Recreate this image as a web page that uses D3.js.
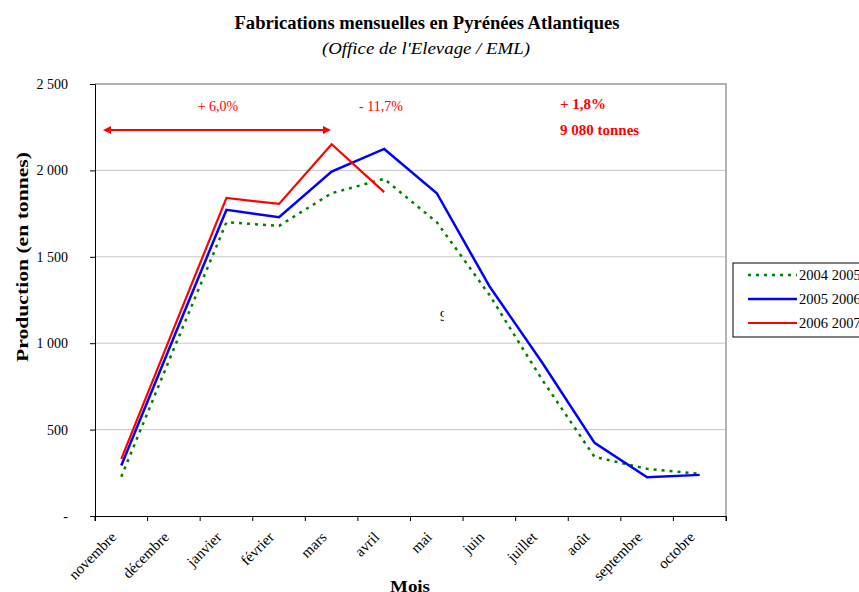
<!DOCTYPE html>
<html>
<head>
<meta charset="utf-8">
<script src="https://cdn.jsdelivr.net/npm/d3@7"></script>
<style>
    body { margin: 0; background: #fff; }
    svg text { font-family: 'Liberation Serif', 'Times New Roman', serif; }
</style>
</head>
<body>
<div id="chart"></div>
<script>
const months = ['novembre', 'décembre', 'janvier', 'février', 'mars', 'avril', 'mai', 'juin', 'juillet', 'août', 'septembre', 'octobre'];
const seriesNames = ['2004 2005', '2005 2006', '2006 2007'];
const values0405 = [227, 968, 1700, 1679, 1868, 1951, 1700, 1280, 790, 342, 273, 244];
const values0506 = [292, 1035, 1772, 1729, 1993, 2124, 1868, 1330, 890, 423, 224, 238];
const values0607 = [331, 1087, 1841, 1806, 2151, 1874];
const yTicks = [0, 500, 1000, 1500, 2000, 2500];

const width = 859, height = 592;
const margin = { top: 84, left: 95, right: 133, bottom: 76 };
const innerW = width - margin.left - margin.right;
const innerH = height - margin.top - margin.bottom;

const svg = d3.select('#chart').append('svg')
    .attr('width', width)
    .attr('height', height);

const chart = svg.append('g')
    .attr('transform', `translate(${margin.left},${margin.top})`);

const xScale = d3.scaleBand()
    .domain(months)
    .range([0, innerW]);

const yScale = d3.scaleLinear()
    .domain([0, 2500])
    .range([innerH, 0]);

// gridlines
chart.selectAll('.grid')
    .data(yTicks.slice(1, -1))
    .join('line')
    .attr('class', 'grid')
    .attr('x1', 0).attr('x2', innerW)
    .attr('y1', d => yScale(d)).attr('y2', d => yScale(d))
    .attr('stroke', '#c8c8c8');

// plot border (top + right)
chart.append('path')
    .attr('d', `M0,0H${innerW}V${innerH}`)
    .attr('fill', 'none')
    .attr('stroke', '#9a9a9a')
    .attr('stroke-width', 1.5);

const fmt = d => d === 0 ? '-' : d3.format(',')(d).replace(',', ' ');

const yAxis = d3.axisLeft(yScale)
    .tickValues(yTicks)
    .tickSize(5)
    .tickPadding(22)
    .tickFormat(fmt);

chart.append('g')
    .call(yAxis)
    .call(g => g.selectAll('text').style('font-size', '14px').attr('fill', '#000'))
    .call(g => g.select('.domain').attr('stroke', '#000'));

const xAxis = d3.axisBottom(xScale).tickSize(5).tickFormat('');
const xAxisGroup = chart.append('g')
    .attr('transform', `translate(0,${innerH})`)
    .call(xAxis);
xAxisGroup.selectAll('.tick').remove();
xAxisGroup.select('.domain').attr('stroke', '#000');
xAxisGroup.selectAll('.xt')
    .data(months.concat(['end']))
    .join('line')
    .attr('class', 'xt')
    .attr('x1', (d, i) => i * xScale.step()).attr('x2', (d, i) => i * xScale.step())
    .attr('y1', 0).attr('y2', 5)
    .attr('stroke', '#000');
xAxisGroup.selectAll('.xl')
    .data(months)
    .join('text')
    .attr('class', 'xl')
    .attr('transform', d => `translate(${xScale(d) + xScale.bandwidth() / 2 - 4},${22}) rotate(-45)`)
    .attr('text-anchor', 'end')
    .attr('fill', '#000')
    .style('font-size', '15px')
    .text(d => d);

// lines
const line = d3.line()
    .x((d, i) => xScale(months[i]) + xScale.bandwidth() / 2)
    .y(d => yScale(d));

const styles = [
    { data: values0405, color: '#008000', w: 2.5, dash: '3,5' },
    { data: values0506, color: '#0000ff', w: 2.5, dash: null },
    { data: values0607, color: '#ff0000', w: 2.2, dash: null }
];

styles.forEach(s => {
    chart.append('path')
        .datum(s.data)
        .attr('d', line)
        .attr('fill', 'none')
        .attr('stroke', s.color)
        .attr('stroke-width', s.w)
        .attr('stroke-dasharray', s.dash);
});

// annotations
const defs = svg.append('defs');
['start', 'end'].forEach(k => {
    defs.append('marker')
        .attr('id', 'arr-' + k)
        .attr('viewBox', '0 0 10 10')
        .attr('refX', 5).attr('refY', 5)
        .attr('markerWidth', 4).attr('markerHeight', 4)
        .attr('orient', k === 'start' ? 'auto-start-reverse' : 'auto')
        .append('path')
        .attr('d', 'M0,0L10,5L0,10z')
        .attr('fill', '#ff0000');
});
defs.append('clipPath').attr('id', 'cut9')
    .append('rect').attr('x', 430).attr('y', 300).attr('width', 14).attr('height', 30);

svg.append('line')
    .attr('x1', 107).attr('x2', 327)
    .attr('y1', 130).attr('y2', 130)
    .attr('stroke', '#ff0000')
    .attr('stroke-width', 2)
    .attr('marker-start', 'url(#arr-start)')
    .attr('marker-end', 'url(#arr-end)');

svg.append('text').attr('x', 218).attr('y', 111).attr('text-anchor', 'middle')
    .attr('fill', '#ff0000').style('font-size', '14px').text('+ 6,0%');
svg.append('text').attr('x', 381).attr('y', 111).attr('text-anchor', 'middle')
    .attr('fill', '#ff0000').style('font-size', '14px').text('- 11,7%');
svg.append('text').attr('x', 560).attr('y', 109)
    .attr('fill', '#ff0000').style('font-size', '15px').style('font-weight', 'bold').text('+ 1,8%');
svg.append('text').attr('x', 560).attr('y', 135)
    .attr('fill', '#ff0000').style('font-size', '15px').style('font-weight', 'bold').text('9 080 tonnes');
svg.append('text').attr('x', 440).attr('y', 321)
    .attr('clip-path', 'url(#cut9)')
    .style('font-size', '14px').text('9');

// titles
svg.append('text').attr('x', 427).attr('y', 29).attr('text-anchor', 'middle')
    .attr('textLength', 385).attr('lengthAdjust', 'spacingAndGlyphs')
    .style('font-size', '18px').style('font-weight', 'bold')
    .text('Fabrications mensuelles en Pyrénées Atlantiques');
svg.append('text').attr('x', 426).attr('y', 54).attr('text-anchor', 'middle')
    .attr('textLength', 208).attr('lengthAdjust', 'spacingAndGlyphs')
    .style('font-size', '17px').style('font-style', 'italic')
    .text("(Office de l'Elevage / EML)");
svg.append('text').attr('x', 410).attr('y', 592).attr('text-anchor', 'middle')
    .attr('textLength', 40).attr('lengthAdjust', 'spacingAndGlyphs')
    .style('font-size', '17px').style('font-weight', 'bold').text('Mois');
svg.append('text')
    .attr('transform', 'translate(28,257) rotate(-90)')
    .attr('text-anchor', 'middle')
    .attr('textLength', 210).attr('lengthAdjust', 'spacingAndGlyphs')
    .style('font-size', '17px').style('font-weight', 'bold')
    .text('Production (en tonnes)');

// legend
const legend = svg.append('g').attr('transform', 'translate(733,263)');
legend.append('rect')
    .attr('width', 140).attr('height', 74)
    .attr('fill', '#fff').attr('stroke', '#000');
const items = legend.selectAll('.item')
    .data(seriesNames)
    .join('g')
    .attr('class', 'item')
    .attr('transform', (d, i) => `translate(0,${12 + i * 24})`);
items.append('line')
    .attr('x1', 15).attr('x2', 64)
    .attr('stroke', (d, i) => styles[i].color)
    .attr('stroke-width', (d, i) => styles[i].w)
    .attr('stroke-dasharray', (d, i) => styles[i].dash);
items.append('text')
    .attr('x', 66).attr('y', 5)
    .style('font-size', '14.5px')
    .text(d => d);
</script>
</body>
</html>
